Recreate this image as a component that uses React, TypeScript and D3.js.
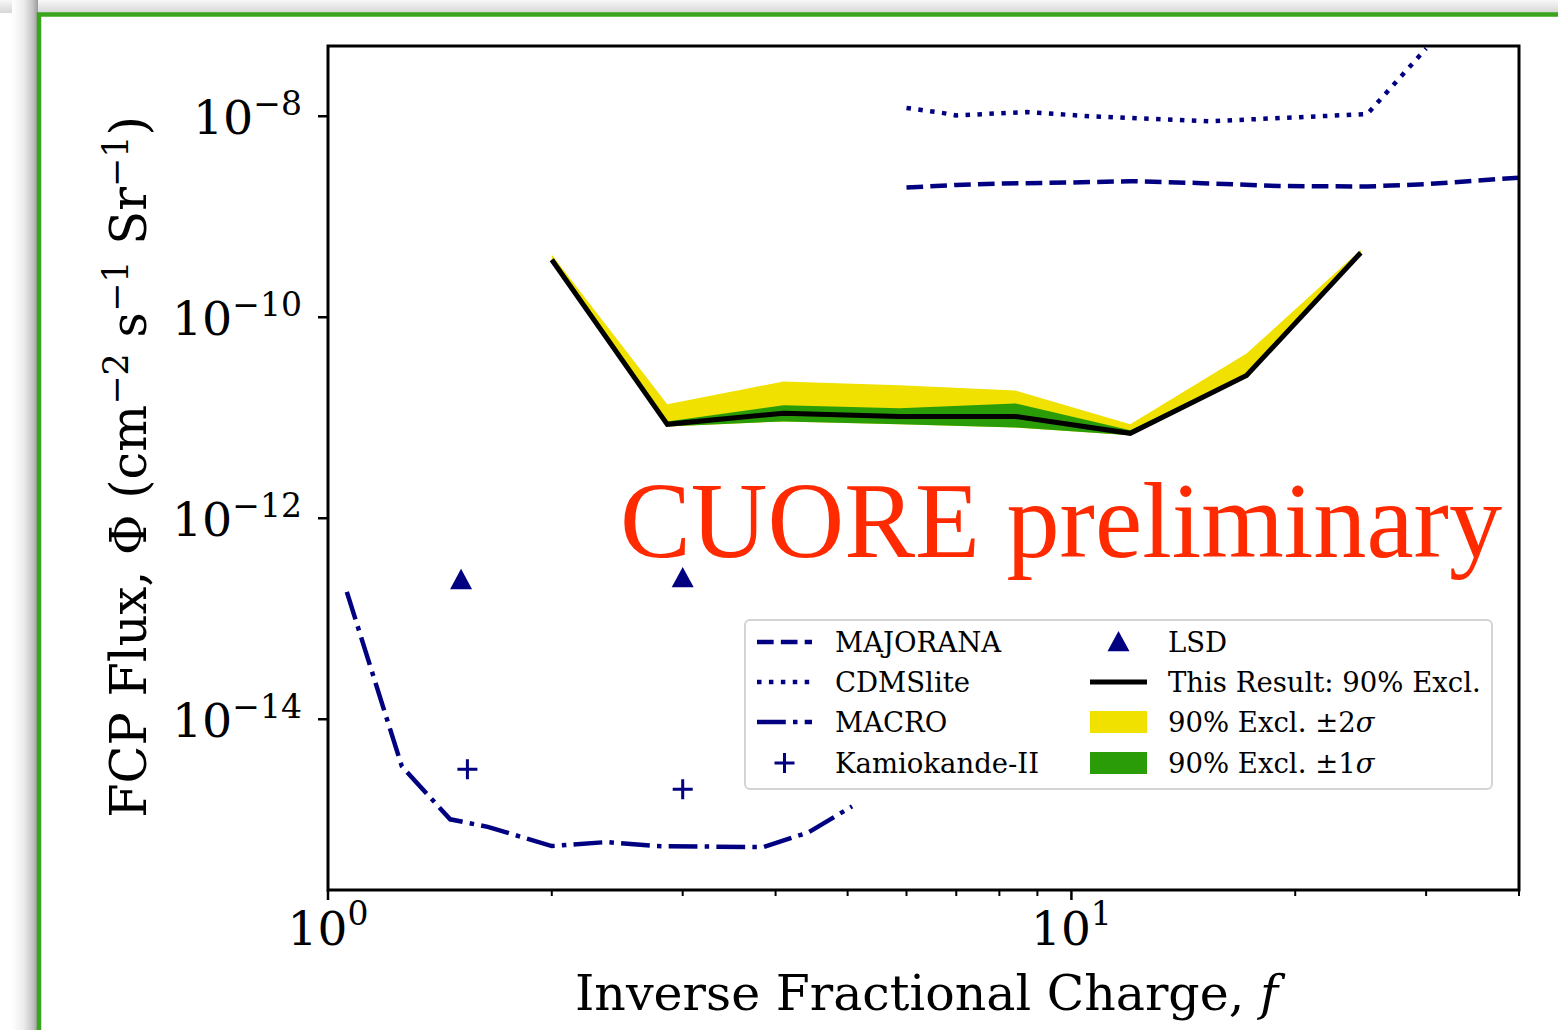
import React from 'react';
import * as d3 from 'd3';

// ---------- data ----------
const resultF = [2.0, 2.86, 4.1, 5.87, 8.4, 12.0, 17.2, 24.5];
const resultFlux = [3.73e-10, 8.6e-12, 1.11e-11, 1.03e-11, 1.03e-11, 7.0e-12, 2.63e-11, 4.38e-10];
const plus2Sigma = [4.18e-10, 1.36e-11, 2.3e-11, 2.1e-11, 1.87e-11, 8.6e-12, 4.35e-11, 4.69e-10];
const plus1Sigma = [3.81e-10, 9.2e-12, 1.33e-11, 1.24e-11, 1.39e-11, 7.5e-12, 2.76e-11, 4.48e-10];
const minus1Sigma = [3.65e-10, 8.2e-12, 9.2e-12, 8.6e-12, 8.0e-12, 6.7e-12, 2.57e-11, 4.28e-10];
const minus2Sigma = [3.65e-10, 8.2e-12, 9.2e-12, 8.6e-12, 8.0e-12, 6.7e-12, 2.57e-11, 4.28e-10];

const majoranaF = [6, 7, 8, 10, 12, 15, 19, 25, 30, 40];
const majoranaFlux = [1.95e-9, 2.07e-9, 2.14e-9, 2.19e-9, 2.26e-9, 2.16e-9, 2.02e-9, 2.0e-9, 2.11e-9, 2.45e-9];

const cdmsF = [6, 6.7, 7, 8.7, 10.6, 15.3, 20.3, 25, 30];
const cdmsFlux = [1.21e-8, 1.08e-8, 1.02e-8, 1.1e-8, 1.0e-8, 8.9e-9, 9.8e-9, 1.05e-8, 4.73e-8];

const macroF = [1.06, 1.257, 1.46, 1.64, 2.0, 2.37, 2.76, 3.85, 4.43, 5.07];
const macroFlux = [1.85e-13, 3.4e-15, 1.01e-15, 8.5e-16, 5.47e-16, 6.0e-16, 5.47e-16, 5.35e-16, 7.5e-16, 1.36e-15];

const lsdF = [1.51, 3.0];
const lsdFlux = [2.44e-13, 2.55e-13];

const kamiokandeF = [1.54, 3.0];
const kamiokandeFlux = [3.18e-15, 2.01e-15];

const xMajorTicks = [1, 10];
const xMajorExp = ['0', '1'];
const xMinorTicks = [2, 3, 4, 5, 6, 7, 8, 9, 20, 30, 40];
const yMajorTicks = [1e-8, 1e-10, 1e-12, 1e-14];
const yMajorExp = ['−8', '−10', '−12', '−14'];

const legendLeft = [
  { label: 'MAJORANA', kind: 'dashed' },
  { label: 'CDMSlite', kind: 'dotted' },
  { label: 'MACRO', kind: 'dashdot' },
  { label: 'Kamiokande-II', kind: 'plus' },
];
const legendRight = [
  { label: 'LSD', kind: 'triangle' },
  { label: 'This Result: 90% Excl.', kind: 'black' },
  { label: '90% Excl. ±2', sym: 'σ', kind: 'yellow' },
  { label: '90% Excl. ±1', sym: 'σ', kind: 'green' },
];

// ---------- style ----------
const NAVY = '#000080';
const YELLOW = '#f0e100';
const GREEN = '#2a9c07';
const FONT = '"DejaVu Serif", serif';
const LW = 4.5;
const DASHED = `${3.7 * LW},${1.6 * LW}`;
const DOTTED = `${1 * LW},${1.65 * LW}`;
const DASHDOT = `${6.4 * LW},${1.6 * LW},${1 * LW},${1.6 * LW}`;

const W = 1558;
const H = 1030;
const L = 328, R = 1519, T = 46, B = 890;

export default function App() {
  const x = d3.scaleLog().domain([1, 40]).range([L, R]);
  const y = d3.scaleLog().domain([2e-16, 5e-8]).range([B, T]);

  const line = (fs: number[], vs: number[]) =>
    d3.line<number>().x((_, i) => x(fs[i])).y((v) => y(v))(vs) || '';

  const band = (lo: number[], hi: number[]) =>
    d3
      .area<number>()
      .x((_, i) => x(resultF[i]))
      .y0((_, i) => y(lo[i]))
      .y1((_, i) => y(hi[i]))(resultF) || '';

  const tri = (cx: number, cy: number, s: number) =>
    `M${cx},${cy - s} L${cx - s},${cy + s * 0.85} L${cx + s},${cy + s * 0.85} Z`;
  const plus = (cx: number, cy: number, s: number) =>
    `M${cx - s},${cy} H${cx + s} M${cx},${cy - s} V${cy + s}`;

  const legX = 745, legY = 620, legW = 747, legH = 169;
  const rowY = [642, 682, 722, 763];
  const c1h0 = 757, c1h1 = 812, c1t = 835;
  const c2h0 = 1090, c2h1 = 1147, c2t = 1168;

  const handle = (kind: string, x0: number, x1: number, cy: number) => {
    const mid = (x0 + x1) / 2;
    switch (kind) {
      case 'dashed':
        return <line x1={x0} x2={x1} y1={cy} y2={cy} stroke={NAVY} strokeWidth={LW} strokeDasharray={DASHED} />;
      case 'dotted':
        return <line x1={x0} x2={x1} y1={cy} y2={cy} stroke={NAVY} strokeWidth={LW} strokeDasharray={DOTTED} />;
      case 'dashdot':
        return <line x1={x0} x2={x1} y1={cy} y2={cy} stroke={NAVY} strokeWidth={LW} strokeDasharray={DASHDOT} />;
      case 'plus':
        return <path d={plus(mid, cy, 10)} stroke={NAVY} strokeWidth={3} fill="none" />;
      case 'triangle':
        return <path d={tri(mid, cy, 11)} fill={NAVY} />;
      case 'black':
        return <line x1={x0} x2={x1} y1={cy} y2={cy} stroke="#000" strokeWidth={5} />;
      case 'yellow':
        return <rect x={x0} y={cy - 11} width={x1 - x0} height={22} fill={YELLOW} />;
      case 'green':
        return <rect x={x0} y={cy - 11} width={x1 - x0} height={22} fill={GREEN} />;
    }
    return null;
  };

  return (
    <div style={{ position: 'absolute', left: 0, top: 0 }}>
      <svg width={W} height={H} style={{ display: 'block', background: '#fff' }}>
        <defs>
          <linearGradient id="shadowL" x1="0" x2="1" y1="0" y2="0">
            <stop offset="0" stopColor="#ffffff" />
            <stop offset="0.45" stopColor="#ececec" />
            <stop offset="0.8" stopColor="#c4c4c4" />
            <stop offset="1" stopColor="#9a9a9a" />
          </linearGradient>
          <linearGradient id="shadowT" x1="0" x2="0" y1="0" y2="1">
            <stop offset="0" stopColor="#f8f8f8" />
            <stop offset="1" stopColor="#d6d6d6" />
          </linearGradient>
          <clipPath id="plotClip">
            <rect x={L} y={T} width={R - L} height={B - T} />
          </clipPath>
        </defs>

        {/* slide frame with shadow */}
        <rect x={0} y={0} width={W} height={13} fill="url(#shadowT)" />
        <rect x={12} y={0} width={26} height={H} fill="url(#shadowL)" />
        <rect x={39} y={14.5} width={W + 20} height={H + 20} fill="#fff" stroke="#3aa51c" strokeWidth={4.5} />

        {/* data */}
        <g clipPath="url(#plotClip)">
          <path d={band(minus2Sigma, plus2Sigma)} fill={YELLOW} />
          <path d={band(minus1Sigma, plus1Sigma)} fill={GREEN} />
          <path d={line(resultF, resultFlux)} fill="none" stroke="#000" strokeWidth={5} strokeLinejoin="miter" />
          <path d={line(majoranaF, majoranaFlux)} fill="none" stroke={NAVY} strokeWidth={LW} strokeDasharray={DASHED} />
          <path d={line(cdmsF, cdmsFlux)} fill="none" stroke={NAVY} strokeWidth={LW} strokeDasharray={DOTTED} />
          <path d={line(macroF, macroFlux)} fill="none" stroke={NAVY} strokeWidth={LW} strokeDasharray={DASHDOT} />
          {lsdF.map((f, i) => (
            <path key={'lsd' + i} d={tri(x(f), y(lsdFlux[i]), 11)} fill={NAVY} />
          ))}
          {kamiokandeF.map((f, i) => (
            <path key={'kam' + i} d={plus(x(f), y(kamiokandeFlux[i]), 10)} stroke={NAVY} strokeWidth={3} fill="none" />
          ))}
        </g>

        {/* CUORE preliminary */}
        <text x={620} y={557} fontFamily='"Liberation Serif", "Times New Roman", serif' fontSize={108} fill="#ff2a00" textLength={882} lengthAdjust="spacingAndGlyphs">
          CUORE preliminary
        </text>

        {/* legend */}
        <rect x={legX} y={legY} width={legW} height={legH} rx={5} fill="#fff" fillOpacity={0.85} stroke="#d4d4d4" strokeWidth={2} />
        {legendLeft.map((e, i) => (
          <g key={'l' + i}>
            {handle(e.kind, c1h0, c1h1, rowY[i])}
            <text x={c1t} y={rowY[i] + 10} fontFamily={FONT} fontSize={27.5} fill="#000">{e.label}</text>
          </g>
        ))}
        {legendRight.map((e, i) => (
          <g key={'r' + i}>
            {handle(e.kind, c2h0, c2h1, rowY[i])}
            <text x={c2t} y={rowY[i] + 10} fontFamily={FONT} fontSize={27.5} fill="#000">
              {e.label}
              {e.sym ? <tspan fontStyle="italic">{e.sym}</tspan> : null}
            </text>
          </g>
        ))}

        {/* axes frame */}
        <rect x={L} y={T} width={R - L} height={B - T} fill="none" stroke="#000" strokeWidth={3} />

        {/* x ticks */}
        {xMajorTicks.map((t, i) => (
          <g key={'xM' + i}>
            <line x1={x(t)} x2={x(t)} y1={B} y2={B + 10} stroke="#000" strokeWidth={2.5} />
            <text x={x(t)} y={945} textAnchor="middle" fontFamily={FONT} fontSize={47} fill="#000">
              10<tspan fontSize={33} dy={-20}>{xMajorExp[i]}</tspan>
            </text>
          </g>
        ))}
        {xMinorTicks.map((t, i) => (
          <line key={'xm' + i} x1={x(t)} x2={x(t)} y1={B} y2={B + 6} stroke="#000" strokeWidth={2} />
        ))}

        {/* y ticks */}
        {yMajorTicks.map((t, i) => (
          <g key={'yM' + i}>
            <line x1={L - 10} x2={L} y1={y(t)} y2={y(t)} stroke="#000" strokeWidth={2.5} />
            <text x={302} y={y(t) + 18} textAnchor="end" fontFamily={FONT} fontSize={47.5} fill="#000">
              10<tspan fontSize={33} dy={-19}>{yMajorExp[i]}</tspan>
            </text>
          </g>
        ))}

        {/* axis labels */}
        <text x={(L + R) / 2 + 3} y={1010} textAnchor="middle" fontFamily={FONT} fontSize={49} fill="#000">
          Inverse Fractional Charge, <tspan fontStyle="italic">f</tspan>
        </text>
        <text transform={`translate(146, ${(T + B) / 2 - 1}) rotate(-90)`} textAnchor="middle" fontFamily={FONT} fontSize={49.5} fill="#000">
          FCP Flux, Φ (cm<tspan fontSize={35} dy={-18}>−2</tspan>
          <tspan dy={18}> s</tspan>
          <tspan fontSize={35} dy={-18}>−1</tspan>
          <tspan dy={18}> Sr</tspan>
          <tspan fontSize={35} dy={-18}>−1</tspan>
          <tspan dy={18}>)</tspan>
        </text>
      </svg>
    </div>
  );
}
